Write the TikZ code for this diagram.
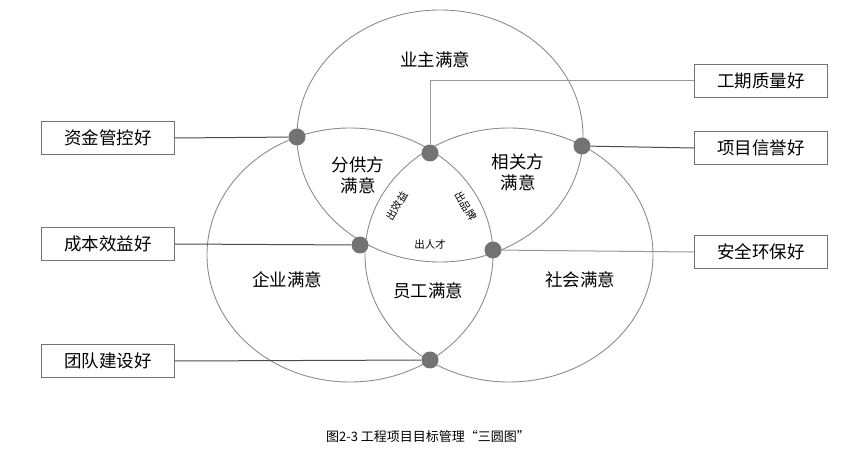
\documentclass[tikz,border=0pt]{standalone}
\usepackage{fontspec}
\setmainfont{Noto Sans CJK SC}
\begin{document}
\begin{tikzpicture}[x=1pt,y=-1pt,
  circ/.style={draw=black!45,line width=0.9pt},
  dotn/.style={circle,fill=black!55,minimum size=17pt,inner sep=0pt},
  lbl/.style={draw=black!55,line width=0.8pt,minimum width=133pt,minimum height=33pt,font=\fontsize{17.5}{20}\selectfont},
  con/.style={draw=black!70,line width=1pt},
  reg/.style={font=\fontsize{17.5}{21}\selectfont,align=center},
  sm/.style={font=\fontsize{10.5}{12}\selectfont,inner sep=0pt}]
\useasboundingbox (0,0) rectangle (855,457);
\draw[circ] (440,136) ellipse [x radius=143, y radius=126];
\draw[circ] (350,255) ellipse [x radius=143, y radius=127];
\draw[circ] (509,255) ellipse [x radius=144, y radius=127];
\node[dotn] (d1) at (297,137) {};
\node[dotn] (d2) at (430,153) {};
\node[dotn] (d3) at (582,146) {};
\node[dotn] (d4) at (360,245) {};
\node[dotn] (d5) at (493,250) {};
\node[dotn] (d6) at (430,360) {};
\node[lbl] (b1) at (108,138) {资金管控好};
\node[lbl] (b2) at (108,244) {成本效益好};
\node[lbl] (b3) at (108,361) {团队建设好};
\node[lbl] (b4) at (761,81) {工期质量好};
\node[lbl] (b5) at (761,148) {项目信誉好};
\node[lbl] (b6) at (761,252) {安全环保好};
\draw[con] (b1.east) -- (d1);
\draw[con] (b2.east) -- (d4);
\draw[con] (b3.east) -- (d6);
\draw[con,draw=black!40] (b4.west) -| (d2);
\draw[con] (b5.west) -- (d3);
\draw[con,draw=black!40] (b6.west) -- (d5);
\node[reg] (t1) at (435,60) {业主满意};
\node[reg] (t2) at (358,175) {分供方\\满意};
\node[reg] (t3) at (518,172) {相关方\\满意};
\node[reg] (t4) at (287,280) {企业满意};
\node[reg] (t5) at (428,291) {员工满意};
\node[reg] (t6) at (580,280) {社会满意};
\node[sm] (s1) at (430,244) {出人才};
\node[sm,rotate=60] (s2) at (397,206) {出效益};
\node[sm,rotate=-60] (s3) at (466,206) {出品牌};
\node[font=\fontsize{13}{15}\selectfont] (cap) at (428,437) {图2-3 工程项目目标管理“三圆图”};
\end{tikzpicture}
\end{document}
